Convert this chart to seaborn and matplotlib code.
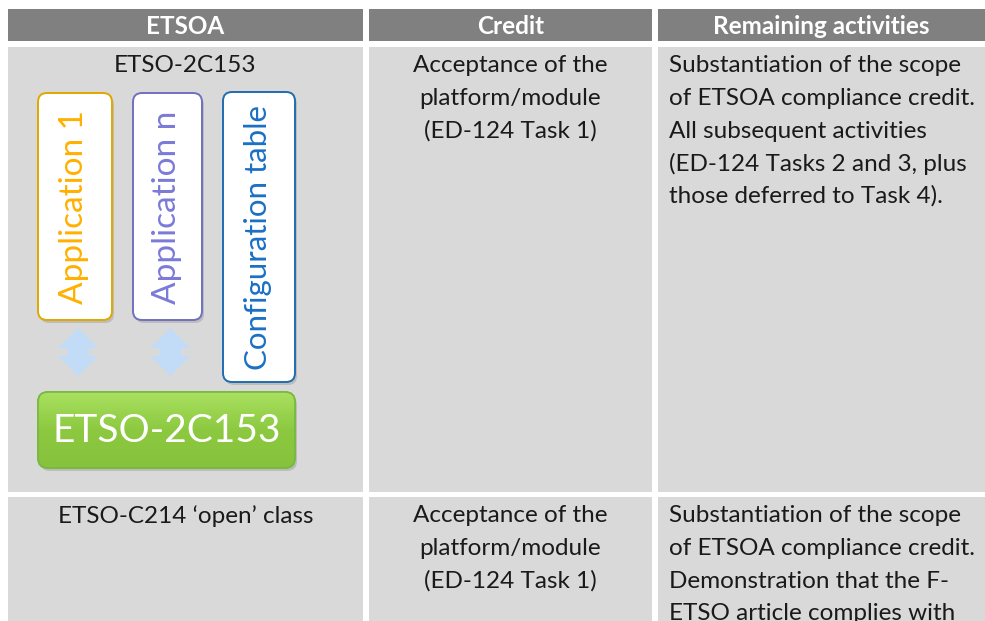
import numpy as np
import matplotlib.pyplot as plt
from matplotlib.patches import Rectangle, FancyBboxPatch, Polygon
from matplotlib.colors import LinearSegmentedColormap
import seaborn as sns

# Table content
headers = ["ETSOA", "Credit", "Remaining activities"]
etsoa = ["ETSO-2C153", "ETSO-C214 \u2018open\u2019 class"]
credit = [
    ["Acceptance of the", "platform/module", "(ED-124 Task 1)"],
    ["Acceptance of the", "platform/module", "(ED-124 Task 1)"],
]
remaining = [
    ["Substantiation of the scope", "of ETSOA compliance credit.",
     "All subsequent activities", "(ED-124 Tasks 2 and 3, plus",
     "those deferred to Task 4)."],
    ["Substantiation of the scope", "of ETSOA compliance credit.",
     "Demonstration that the F-", "ETSO article complies with"],
]
# Diagram content
apps = ["Application 1", "Application n", "Configuration table"]
platform = "ETSO-2C153"

# Layout (pixels)
W, H = 985, 621
col_x = [(8, 363), (369, 652), (658, 985)]
header_y = (9, 41)
row_y = [(47, 492), (497, 660)]
line_h = 32.5
first_line = 19

# Styles
header_color = "#808080"
cell_color = "#d9d9d9"
text_color = "#1a1a1a"
body_size = 17.5
app_edge = ["#e0a800", "#7070c0", "#1f6db0"]
app_text = ["#ffb000", "#7b7bd8", "#1a70c4"]
app_size = [24, 24, 22.5]
app_boxes = [(38, 93, 112, 320), (133, 93, 202, 320), (223, 92, 295, 382)]
base_box = (38, 392, 295, 468)
arrow_color = "#c2dcf8"


def main():
    sns.set_style("white")
    plt.rcParams['font.family'] = ['Lato', 'DejaVu Sans']

    fig = plt.figure(figsize=(W / 100, H / 100), dpi=100)
    ax = fig.add_axes([0, 0, 1, 1])
    ax.set_xlim(0, W)
    ax.set_ylim(H, 0)
    ax.axis('off')

    # header
    for (x0, x1), label in zip(col_x, headers):
        ax.add_patch(Rectangle((x0, header_y[0]), x1 - x0, header_y[1] - header_y[0],
                               color=header_color, lw=0))
        ax.text((x0 + x1) / 2, (header_y[0] + header_y[1]) / 2 + 1, label,
                ha='center', va='center', color='white', fontsize=17.5, fontweight='bold')

    # cells
    for r, (y0, y1) in enumerate(row_y):
        for (x0, x1) in col_x:
            ax.add_patch(Rectangle((x0, y0), x1 - x0, y1 - y0, color=cell_color, lw=0))
        ty = y0 + first_line
        ax.text(sum(col_x[0]) / 2, ty, etsoa[r], ha='center', va='center',
                color=text_color, fontsize=body_size)
        for i, line in enumerate(credit[r]):
            ax.text(sum(col_x[1]) / 2, ty + i * line_h, line, ha='center', va='center',
                    color=text_color, fontsize=body_size)
        for i, line in enumerate(remaining[r]):
            ax.text(col_x[2][0] + 11, ty + i * line_h, line, ha='left', va='center',
                    color=text_color, fontsize=body_size)

    # diagram: application boxes
    for (x0, y0, x1, y1), label, ec, tc, fs in zip(app_boxes, apps, app_edge, app_text, app_size):
        ax.add_patch(FancyBboxPatch((x0 + 2, y0 + 3), x1 - x0, y1 - y0,
                                    boxstyle="round,pad=0,rounding_size=9",
                                    fc="#9a9a9a", ec='none', alpha=0.45))
        ax.add_patch(FancyBboxPatch((x0, y0), x1 - x0, y1 - y0,
                                    boxstyle="round,pad=0,rounding_size=9",
                                    fc='white', ec=ec, lw=1.4))
        ax.text((x0 + x1) / 2 - 1, (y0 + y1) / 2 + 1, label, rotation=90,
                ha='center', va='center', color=tc, fontsize=fs)

    # double arrows between applications and platform
    for (x0, y0, x1, y1) in app_boxes[:2]:
        cx = (x0 + x1) / 2 + 3
        cy = 352
        pts = [(cx, cy - 24), (cx + 20, cy - 4), (cx + 11, cy - 4), (cx + 11, cy + 4),
               (cx + 20, cy + 4), (cx, cy + 24), (cx - 20, cy + 4), (cx - 11, cy + 4),
               (cx - 11, cy - 4), (cx - 20, cy - 4)]
        ax.add_patch(Polygon(pts, closed=True, fc=arrow_color, ec='none'))

    # platform box with gradient
    x0, y0, x1, y1 = base_box
    ax.add_patch(FancyBboxPatch((x0 + 2, y0 + 3), x1 - x0, y1 - y0,
                                boxstyle="round,pad=0,rounding_size=10",
                                fc="#9a9a9a", ec='none', alpha=0.45))
    box = FancyBboxPatch((x0, y0), x1 - x0, y1 - y0,
                         boxstyle="round,pad=0,rounding_size=10",
                         fc="#92d050", ec="#79b840", lw=1.2)
    ax.add_patch(box)
    grad = np.linspace(0, 1, 64).reshape(-1, 1)
    cmap = LinearSegmentedColormap.from_list("g", ["#a9e060", "#8cc940", "#86c23c"])
    im = ax.imshow(grad, extent=(x0, x1, y1, y0), cmap=cmap, aspect='auto', zorder=2)
    im.set_clip_path(box)
    ax.add_patch(FancyBboxPatch((x0, y0), x1 - x0, y1 - y0,
                                boxstyle="round,pad=0,rounding_size=10",
                                fc='none', ec="#79b840", lw=1.2, zorder=3))
    ax.text((x0 + x1) / 2, (y0 + y1) / 2 + 1, platform, ha='center', va='center',
            color='white', fontsize=28, zorder=4)
    ax.set_xlim(0, W)
    ax.set_ylim(H, 0)

    fig.savefig("out.png", dpi=100, facecolor='white')


if __name__ == '__main__':
    main()
